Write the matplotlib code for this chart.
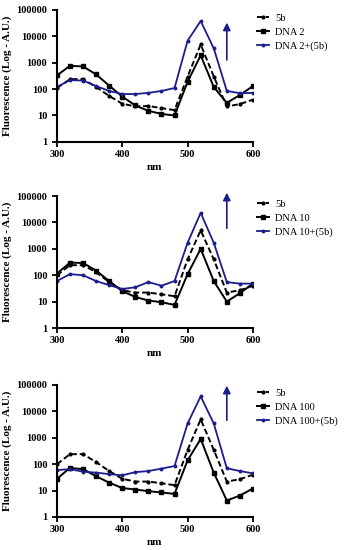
import matplotlib
matplotlib.use("Agg")
import matplotlib.pyplot as plt
from matplotlib.ticker import FixedLocator, FixedFormatter, NullLocator

# wavelengths (nm)
wavelengths = [300, 320, 340, 360, 380, 400, 420, 440, 460, 480, 500, 520, 540, 560, 580, 600]

# panel 1 - DNA 2
p1_5b = [110, 237, 240, 120, 55, 28, 22, 23, 19, 16, 300, 4900, 300, 22, 27, 40]
p1_dna = [330, 760, 720, 360, 135, 52, 24, 15, 11.5, 10, 190, 1900, 120, 30, 60, 130]
p1_mix = [120, 220, 210, 130, 85, 65, 65, 72, 85, 110, 6800, 38000, 3500, 85, 70, 72]

# panel 2 - DNA 10
p2_5b = [100, 240, 240, 130, 55, 27, 22, 22, 19, 16, 400, 5000, 400, 22, 27, 40]
p2_dna = [115, 300, 290, 150, 60, 25, 15, 11, 9.5, 7.5, 110, 1000, 60, 10, 21, 48]
p2_mix = [60, 110, 100, 60, 42, 30, 35, 55, 40, 60, 1700, 23000, 1700, 55, 48, 48]

# panel 3 - DNA 100
p3_5b = [100, 240, 240, 120, 55, 28, 22, 22, 19, 16, 350, 5000, 350, 22, 27, 40]
p3_dna = [28, 72, 65, 35, 20, 12.5, 11, 9.5, 8.5, 7.5, 140, 900, 48, 4.2, 6.5, 12]
p3_mix = [60, 65, 52, 48, 42, 38, 50, 55, 68, 85, 3500, 37000, 3500, 70, 55, 45]

dna_labels = ["DNA 2", "DNA 10", "DNA 100"]
y_ticks = [1, 10, 100, 1000, 10000, 100000]
x_ticks = [300, 400, 500, 600]

# arrow (start, end) values on y for each panel
arrows = [(1000, 42000), (4700, 170000), (3600, 120000)]

BLUE = "#1c1c8c"
plt.rcParams["font.family"] = ["Liberation Serif", "DejaVu Serif"]

fig = plt.figure(figsize=(3.47, 5.5), dpi=100)

panels = [
    (p1_5b, p1_dna, p1_mix),
    (p2_5b, p2_dna, p2_mix),
    (p3_5b, p3_dna, p3_mix),
]
tops = [0.982, 0.6436, 0.30]

for i, (s5b, sdna, smix) in enumerate(panels):
    ax = fig.add_axes([0.164, tops[i] - 0.24, 0.565, 0.24])

    ax.plot(wavelengths, s5b, color="black", linestyle=(0, (3, 1.5)), linewidth=1.4,
            marker="o", markersize=2, label="5b")
    ax.plot(wavelengths, sdna, color="black", linewidth=1.4,
            marker="s", markersize=3.5, label=dna_labels[i])
    ax.plot(wavelengths, smix, color=BLUE, linewidth=1.3,
            marker="o", markersize=1.8, label=dna_labels[i] + "+(5b)")

    ax.annotate("", xy=(560, arrows[i][1]), xytext=(560, arrows[i][0]),
                arrowprops=dict(arrowstyle="-|>", color=BLUE, lw=1.2,
                                mutation_scale=11),
                annotation_clip=False)

    ax.set_yscale("log")
    ax.set_xlim(300, 600)
    ax.set_ylim(1, 100000)
    ax.yaxis.set_major_locator(FixedLocator(y_ticks))
    ax.yaxis.set_major_formatter(FixedFormatter([str(t) for t in y_ticks]))
    ax.yaxis.set_minor_locator(NullLocator())
    ax.set_xticks(x_ticks)

    for side in ["top", "right"]:
        ax.spines[side].set_visible(False)
    for side in ["left", "bottom"]:
        ax.spines[side].set_linewidth(1.5)
    ax.tick_params(axis="both", direction="out", width=1.3, length=3.5, labelsize=7.5)
    ax.tick_params(axis="x", pad=2)
    for lab in ax.get_xticklabels() + ax.get_yticklabels():
        lab.set_fontweight("bold")

    ax.set_xlabel("nm", fontsize=8, fontweight="bold", labelpad=3)
    ax.set_ylabel("Fluorescence (Log - A.U.)", fontsize=8, fontweight="bold", labelpad=3)

    ax.legend(loc="upper left", bbox_to_anchor=(1.0, 1.0), frameon=False,
              fontsize=7.5, handlelength=1.2, handletextpad=0.6, labelspacing=0.45,
              borderaxespad=0.05, borderpad=0.3)

fig.savefig("out.png", dpi=100)
